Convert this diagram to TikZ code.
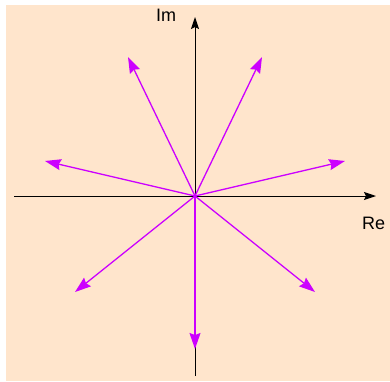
\documentclass[tikz,border=0pt]{standalone}
\usepackage{fontspec}
\setmainfont{Liberation Sans}
\usetikzlibrary{arrows.meta}
\definecolor{bgpeach}{RGB}{255,229,204}
\definecolor{vecmag}{RGB}{204,0,255}
\begin{document}
\begin{tikzpicture}[x=1pt,y=-1pt,
  axisline/.style={line width=1pt,black,-{Stealth[length=12pt,width=8pt,inset=2pt]}},
  vecline/.style={line width=1.3pt,vecmag,-{Stealth[length=16pt,width=11pt,inset=2pt]}},
  axlabel/.style={font=\fontsize{18}{18}\selectfont,inner sep=0pt,anchor=base west}]
\useasboundingbox (0,0) rectangle (390,381);
\fill[bgpeach] (6,5) rectangle (390,381);
% axes
\coordinate (O) at (195,196);
\coordinate (xl) at (14,196);
\coordinate (xr) at (376,196);
\coordinate (yb) at (195,376);
\coordinate (yt) at (195,17);
\draw[axisline] (xl) -- (xr);
\draw[axisline] (yb) -- (yt);
\node[axlabel] (im) at (156,21) {Im};
\node[axlabel] (re) at (362,229) {Re};
% vectors
\coordinate (v1) at (128,57);
\coordinate (v2) at (262,57);
\coordinate (v3) at (45,161);
\coordinate (v4) at (345,161);
\coordinate (v5) at (75,292);
\coordinate (v6) at (315,292);
\coordinate (v7) at (195,349);
\foreach \v in {v1,v2,v3,v4,v5,v6,v7}
  \draw[vecline] (O) -- (\v);
\end{tikzpicture}
\end{document}
